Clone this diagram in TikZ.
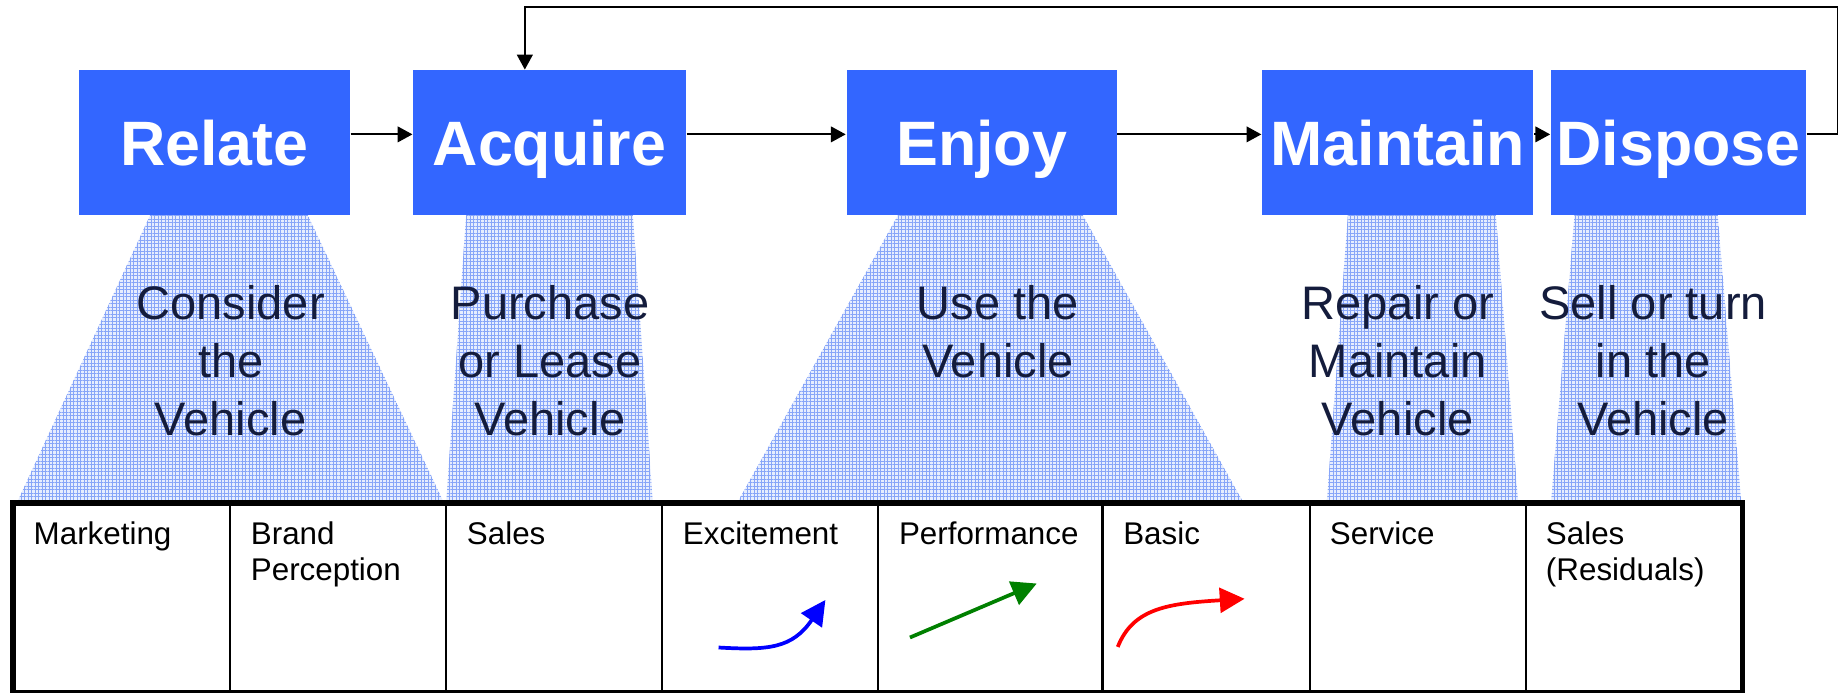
\documentclass[tikz,border=0pt]{standalone}
\usepackage{fontspec}
\setmainfont{Liberation Sans}
\usetikzlibrary{arrows.meta,patterns.meta}

\definecolor{stageblue}{RGB}{51,102,255}
\definecolor{funnelblue}{RGB}{230,237,254}
\definecolor{gridblue}{RGB}{135,165,248}
\definecolor{phasetext}{RGB}{20,28,60}
\definecolor{perfgreen}{RGB}{0,128,0}

\begin{document}
\begin{tikzpicture}[
  stage/.style={fill=stageblue, text=white, inner sep=0pt, minimum height=1.23cm,
    text height=10.9pt, text depth=0pt, font=\fontsize{15.2}{18}\selectfont\bfseries},
  flow/.style={-{Triangle[length=3.6pt,width=3.8pt]}, line width=0.45pt},
  funnel/.style={fill=funnelblue,
    postaction={pattern={Lines[angle=0,distance=0.85pt,line width=0.12pt]}, pattern color=gridblue},
    postaction={pattern={Lines[angle=90,distance=0.85pt,line width=0.12pt]}, pattern color=gridblue}},
  phase/.style={align=center, inner sep=0pt, anchor=north, text=phasetext,
    font=\fontsize{11.4}{14.1}\selectfont},
  cell/.style={align=left, inner sep=0pt, anchor=north west, font=\fontsize{7.6}{8.7}\selectfont},
  trend/.style={line width=0.9pt, -{Triangle[length=6pt,width=6pt]}}
]
\useasboundingbox (0,0) rectangle (15.68,5.90);

\fill[funnel] (1.28,4.07) -- (2.62,4.07) -- (3.78,1.62) -- (0.145,1.62) -- cycle;
\fill[funnel] (3.97,4.07) -- (5.39,4.07) -- (5.56,1.62) -- (3.80,1.62) -- cycle;
\fill[funnel] (7.65,4.07) -- (9.22,4.07) -- (10.59,1.62) -- (6.28,1.62) -- cycle;
\fill[funnel] (11.48,4.07) -- (12.74,4.07) -- (12.93,1.62) -- (11.30,1.62) -- cycle;
\fill[funnel] (13.41,4.07) -- (14.63,4.07) -- (14.83,1.62) -- (13.21,1.62) -- cycle;

\node[stage, minimum width=2.31cm] (relate) at (1.825,4.685) {Relate};
\node[stage, minimum width=2.32cm] (acquire) at (4.68,4.685) {Acquire};
\node[stage, minimum width=2.30cm] (enjoy) at (8.36,4.685) {Enjoy};
\node[stage, minimum width=2.31cm] (maintain) at (11.905,4.685) {Maintain};
\node[stage, minimum width=2.17cm] (dispose) at (14.295,4.685) {Dispose};

\draw[flow] ([yshift=2pt]relate.east) -- ([yshift=2pt]acquire.west);
\draw[flow] ([yshift=2pt]acquire.east) -- ([yshift=2pt]enjoy.west);
\draw[flow] ([yshift=2pt]enjoy.east) -- ([yshift=2pt]maintain.west);
\draw[flow] ([yshift=2pt]maintain.east) -- ([yshift=2pt]dispose.west);
\coordinate (loopcorner) at (15.65,5.84);
\draw[flow] ([yshift=2pt]dispose.east) -| (loopcorner) -| ([xshift=-0.21cm]acquire.north);

\node[phase] (consider) at (1.965,3.48) {Consider\\the\\Vehicle};
\node[phase] (purchase) at (4.685,3.48) {Purchase\\or Lease\\Vehicle};
\node[phase] (use) at (8.50,3.48) {Use the\\Vehicle};
\node[phase] (repair) at (11.905,3.48) {Repair or\\Maintain\\Vehicle};
\node[phase] (sell) at (14.08,3.48) {Sell or turn\\in the\\Vehicle};

\draw[line width=0.5pt] (1.96,0) -- (1.96,1.615) (3.80,0) -- (3.80,1.615)
  (5.64,0) -- (5.64,1.615) (7.48,0) -- (7.48,1.615) (9.39,0) -- (9.39,1.615)
  (11.16,0) -- (11.16,1.615) (13.00,0) -- (13.00,1.615);
\draw[line width=1.4pt] (0.11,0) rectangle (14.84,1.615);

\node[cell] (marketing) at (0.28,1.46) {Marketing};
\node[cell] (brand) at (2.13,1.46) {Brand\\Perception};
\node[cell] (sales) at (3.97,1.46) {Sales};
\node[cell] (excitement) at (5.81,1.46) {Excitement};
\node[cell] (performance) at (7.65,1.46) {Performance};
\node[cell] (basic) at (9.56,1.46) {Basic};
\node[cell] (service) at (11.32,1.46) {Service};
\node[cell] (residuals) at (13.16,1.46) {Sales\\(Residuals)};

\draw[trend, blue] (6.12,0.385) .. controls (6.55,0.36) and (6.75,0.38) .. (7.03,0.79);
\draw[trend, perfgreen] (7.75,0.47) -- (8.83,0.93);
\draw[trend, red] (9.52,0.39) .. controls (9.65,0.72) and (9.95,0.76) .. (10.60,0.80);
\end{tikzpicture}
\end{document}
